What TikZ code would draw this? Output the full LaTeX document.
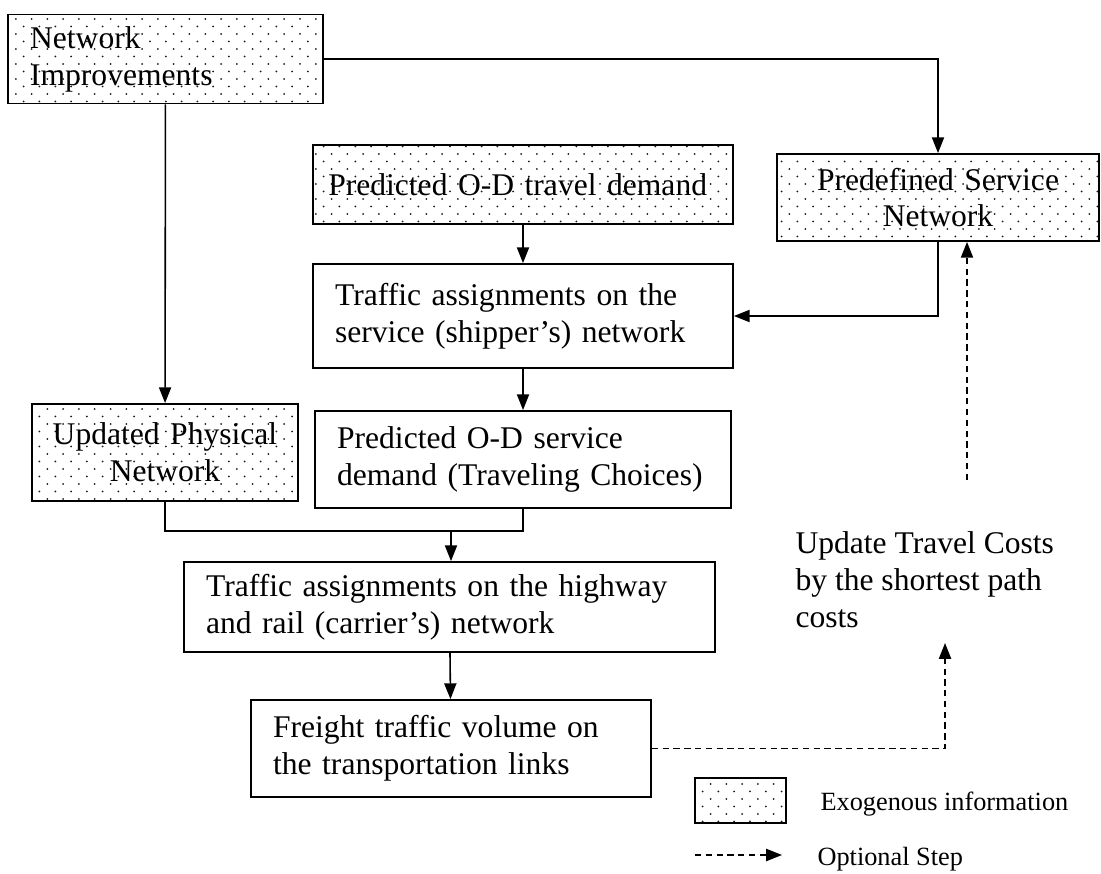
\documentclass[tikz,border=0pt]{standalone}
\usepackage{fontspec}
\setmainfont{Liberation Serif}
\usetikzlibrary{arrows.meta, patterns, positioning}

% dotted fill for exogenous inputs
\pgfdeclarepatternformonly{sparse dots}{\pgfqpoint{-1pt}{-1pt}}{\pgfqpoint{5pt}{4.7pt}}{\pgfqpoint{6pt}{5.7pt}}{%
  \pgfpathcircle{\pgfqpoint{0pt}{0pt}}{0.38pt}%
  \pgfpathcircle{\pgfqpoint{3pt}{2.85pt}}{0.38pt}%
  \pgfusepath{fill}%
}

\begin{document}
\begin{tikzpicture}[
        x=0.38pt, y=-0.38pt,
        box/.style={draw, line width=0.65pt, inner xsep=8.4pt, inner ysep=0pt, align=left,
            font=\fontsize{12}{14}\selectfont},
        exo/.style={box, pattern=sparse dots, pattern color=black!90},
        arr/.style={-{Triangle[length=6pt, width=4.6pt]}, line width=0.6pt},
        opt/.style={arr, dash pattern=on 2.4pt off 1.7pt}
    ]
        \useasboundingbox (0,0) rectangle (1101,874);

        % Exogenous inputs
        \node[exo, text width=102.9pt, minimum height=33.8pt] (netimp) at (165.5,59)
            {Network\\Improvements};
        \node[exo, inner xsep=5.8pt, text width=148pt, minimum height=30pt] (travel) at (523,184.5)
            {Predicted O-D travel demand};
        \node[exo, align=center, text width=105.6pt, minimum height=33.1pt] (service) at (938,197.5)
            {Predefined Service\\Network};
        \node[exo, align=center, inner xsep=5.5pt, text width=90pt, minimum height=36.9pt] (updated) at (165,452.5)
            {Updated Physical\\Network};

        % Assignment steps
        \node[box, text width=142.8pt, minimum height=39.5pt] (traffic) at (523,316)
            {Traffic assignments on the\\service (shipper's) network};
        \node[box, text width=141.3pt, minimum height=36.9pt] (odserv) at (523,459.5)
            {Predicted O-D service\\demand (Traveling Choices)};
        \node[box, text width=185pt, minimum height=34.2pt] (highway) at (449.5,607)
            {Traffic assignments on the highway\\and rail (carrier's) network};
        \node[box, text width=135.2pt, minimum height=36.9pt] (freight) at (451,748.5)
            {Freight traffic volume on\\the transportation links};

        \node[anchor=north west, inner sep=0pt, align=left, font=\fontsize{12}{14}\selectfont] (updcost) at (795,531)
            {Update Travel Costs\\by the shortest path\\costs};

        % Connectors
        \draw[arr] (netimp.east) -| (service.north);
        \draw[arr] (netimp) -- (updated);
        \draw[arr] (travel) -- (traffic);
        \draw[arr] (service.south) |- (traffic.east);
        \draw[arr] (traffic) -- (odserv);

        \coordinate (merge) at (451,531);
        \draw[line width=0.6pt] (updated.south) |- (merge) -| (odserv.south);
        \draw[arr] (merge) -- (merge |- highway.north);
        \draw[arr] (highway) -- (freight);

        % Optional feedback
        \coordinate (updtip) at (945,643);
        \coordinate (costsup) at (967,480);
        \draw[opt] (freight.east) -| (updtip);
        \draw[opt] (costsup) -- (costsup |- service.south);

        % Legend
        \node[exo, minimum width=34.6pt, minimum height=17.1pt] (legbox) at (740.5,800.5) {};
        \node[anchor=base west, inner sep=0pt, font=\fontsize{10}{12}\selectfont] (legexo) at (820,810)
            {Exogenous information};
        \coordinate (optfrom) at (695,855);
        \coordinate (optto) at (782,855);
        \draw[opt] (optfrom) -- (optto);
        \node[anchor=base west, inner sep=0pt, font=\fontsize{10}{12}\selectfont] (legopt) at (817,865)
            {Optional Step};
\end{tikzpicture}
\end{document}
